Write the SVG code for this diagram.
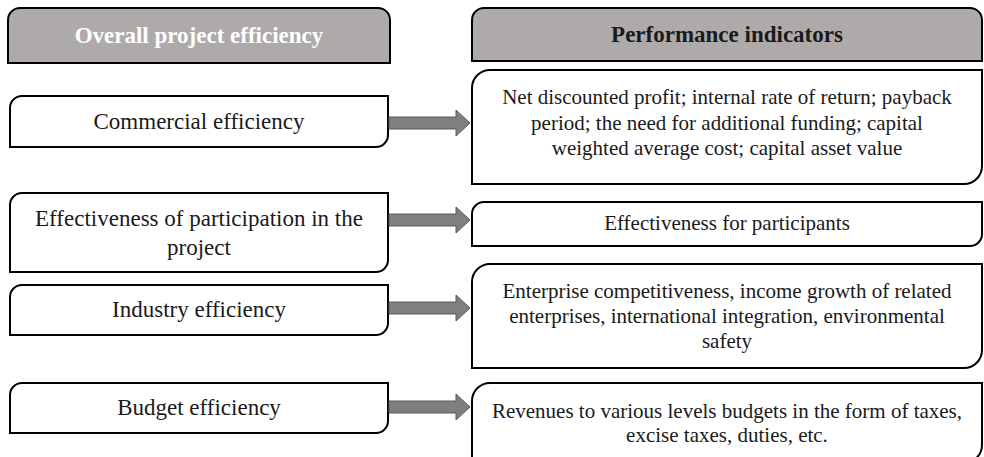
<svg xmlns="http://www.w3.org/2000/svg" width="984" height="457" viewBox="0 0 984 457">
<style>
.hdr{fill:#aeaaaa;stroke:#000;stroke-width:2}
.box{fill:#fff;stroke:#000;stroke-width:2}
.arr{fill:#7f7f7f;stroke:#5a5a5a;stroke-width:1}
text{font-family:'Liberation Serif','Times New Roman',serif;font-size:21px;fill:#1a1a1a;text-anchor:middle}
.ht{font-weight:bold;font-size:23px}
.lt{font-size:23px}
</style>
<rect width="984" height="457" fill="#fff"/>
<g id="hdr-left">
<path class="hdr" d="M20 8 H378 A12 12 0 0 1 390 20 V63 H8 V20 A12 12 0 0 1 20 8 Z"/>
<text class="ht" x="199" y="43" style="fill:#fff">Overall project efficiency</text>
</g>
<g id="hdr-right">
<path class="hdr" d="M484 8 H970 A12 12 0 0 1 982 20 V61 H472 V20 A12 12 0 0 1 484 8 Z"/>
<text class="ht" x="727" y="42">Performance indicators</text>
</g>
<g id="commercial">
<path class="box" d="M22 96 H388 V135 A12 12 0 0 1 376 147 H10 V108 A12 12 0 0 1 22 96 Z"/>
<text class="lt" x="199" y="129">Commercial efficiency</text>
</g>
<g id="participation">
<path class="box" d="M22 193 H388 V260 A12 12 0 0 1 376 272 H10 V205 A12 12 0 0 1 22 193 Z"/>
<text class="lt" x="199" y="226">Effectiveness of participation in the</text>
<text class="lt" x="199" y="255">project</text>
</g>
<g id="industry">
<path class="box" d="M22 285 H388 V323 A12 12 0 0 1 376 335 H10 V297 A12 12 0 0 1 22 285 Z"/>
<text class="lt" x="199" y="317">Industry efficiency</text>
</g>
<g id="budget">
<path class="box" d="M22 383 H388 V421 A12 12 0 0 1 376 433 H10 V395 A12 12 0 0 1 22 383 Z"/>
<text class="lt" x="199" y="415">Budget efficiency</text>
</g>
<g id="net">
<path class="box" d="M490 70 H982 V166 A18 18 0 0 1 964 184 H472 V88 A18 18 0 0 1 490 70 Z"/>
<text x="727" y="104">Net discounted profit; internal rate of return; payback</text>
<text x="727" y="130">period; the need for additional funding; capital</text>
<text x="727" y="155">weighted average cost; capital asset value</text>
</g>
<g id="participants">
<path class="box" d="M484 202 H982 V234 A12 12 0 0 1 970 246 H472 V214 A12 12 0 0 1 484 202 Z"/>
<text x="727" y="230">Effectiveness for participants</text>
</g>
<g id="enterprise">
<path class="box" d="M490 264 H982 V350 A18 18 0 0 1 964 368 H472 V282 A18 18 0 0 1 490 264 Z"/>
<text x="727" y="298">Enterprise competitiveness, income growth of related</text>
<text x="727" y="323">enterprises, international integration, environmental</text>
<text x="727" y="348">safety</text>
</g>
<g id="revenues">
<path class="box" d="M490 383 H982 V445 A18 18 0 0 1 964 463 H472 V401 A18 18 0 0 1 490 383 Z"/>
<text x="727" y="418">Revenues to various levels budgets in the form of taxes,</text>
<text x="727" y="442">excise taxes, duties, etc.</text>
</g>
<g id="connectors">
<polygon class="arr" points="389,117 456,117 456,110 470,123 456,136 456,129 389,129"/>
<polygon class="arr" points="389,214 456,214 456,207 470,220 456,233 456,226 389,226"/>
<polygon class="arr" points="389,302 456,302 456,295 470,308 456,321 456,314 389,314"/>
<polygon class="arr" points="389,401 456,401 456,394 470,407 456,420 456,413 389,413"/>
</g>
</svg>
